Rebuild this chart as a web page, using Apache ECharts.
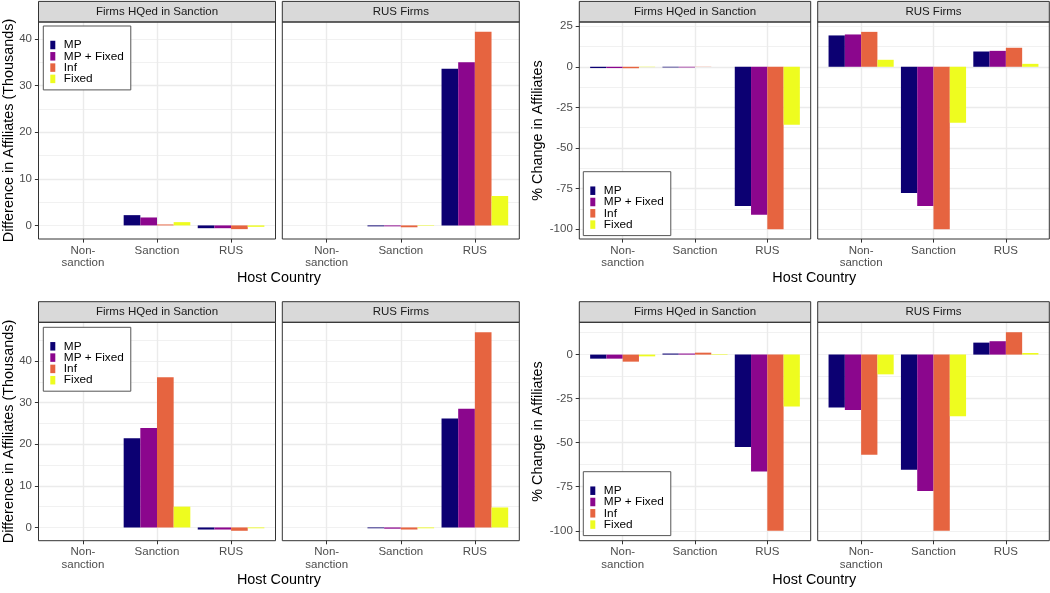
<!DOCTYPE html>
<html><head><meta charset="utf-8">
<script src="https://cdn.jsdelivr.net/npm/echarts@6/dist/echarts.min.js"></script>
<style>html,body{margin:0;padding:0;background:#fff}#c{width:1050px;height:593px}</style>
</head><body><div id="c"></div>
<script>
// ---------- data ----------
const categories = ['Non-\nsanction', 'Sanction', 'RUS'];
const seriesNames = ['MP', 'MP + Fixed', 'Inf', 'Fixed'];
const facetNames = ['Firms HQed in Sanction', 'RUS Firms'];
const xTitle = 'Host Country';
const yTitleDiff = 'Difference in Affiliates (Thousands)';
const yTitlePct = '% Change in Affiliates';
const colors = ['#0C0072', '#8B068D', '#E66440', '#EEFC1F'];

// each facet: rows = MP, MP + Fixed, Inf, Fixed ; columns = Non-sanction, Sanction, RUS
const diffTopHQ  = [[0, 2.2, -0.6], [0, 1.7, -0.6], [0, 0.2, -0.8], [0, 0.7, -0.3]];
const diffTopRUS = [[0, -0.2, 33.6], [0, -0.2, 35.0], [0, -0.4, 41.5], [0, -0.1, 6.3]];
const pctTopHQ   = [[-0.8, -0.4, -85.7], [-0.8, -0.4, -91.1], [-0.9, -0.1, -100], [-0.2, 0, -35.7]];
const pctTopRUS  = [[19.3, -77.7, 9.4], [19.9, -85.7, 9.8], [21.5, -100, 11.7], [4.3, -34.5, 1.8]];
const diffBotHQ  = [[0, 21.4, -0.5], [0, 23.9, -0.5], [0, 36.1, -0.8], [0, 5.0, -0.2]];
const diffBotRUS = [[0, -0.2, 26.2], [0, -0.3, 28.5], [0, -0.5, 46.9], [0, -0.2, 4.8]];
const pctBotHQ   = [[-2.3, 0.6, -52.4], [-2.3, 0.6, -66.3], [-4.0, 1.1, -100], [-1.0, 0.3, -29.5]];
const pctBotRUS  = [[-30.0, -65.4, 6.8], [-31.4, -77.4, 7.6], [-56.8, -100, 12.7], [-11.2, -35.0, 0.9]];

// ---------- layout ----------
const FONT = '"Liberation Sans", Arial, Helvetica, sans-serif';
const colsLeft = [[38.5, 275.5], [282.3, 519.3]];
const colsRight = [[579.3, 810.7], [817.7, 1049.3]];
const rows = [
  { strip: [1.4, 22], plot: [22, 239], xtitleY: 278.5 },
  { strip: [301.7, 322.3], plot: [322.3, 540.7], xtitleY: 580 }
];
const panels = [
  { data: [diffTopHQ, diffTopRUS], cols: colsLeft, row: 0, major: 10, minor: 5, ytitle: yTitleDiff, ytitleX: 9.5, legend: [43.3, 26] },
  { data: [pctTopHQ, pctTopRUS], cols: colsRight, row: 0, major: 25, minor: 12.5, ytitle: yTitlePct, ytitleX: 538.5, legend: [583.3, 171.7] },
  { data: [diffBotHQ, diffBotRUS], cols: colsLeft, row: 1, major: 10, minor: 5, ytitle: yTitleDiff, ytitleX: 9.5, legend: [43.3, 327.3] },
  { data: [pctBotHQ, pctBotRUS], cols: colsRight, row: 1, major: 25, minor: 12.5, ytitle: yTitlePct, ytitleX: 538.5, legend: [583.3, 471.7] }
];

const grid = [], xAxis = [], yAxis = [], series = [], legend = [], graphic = [];

panels.forEach((p, pi) => {
  // ggplot-like continuous range: include 0, expand 5%
  let lo = 0, hi = 0;
  p.data.forEach(fd => fd.forEach(r => r.forEach(v => { lo = Math.min(lo, v); hi = Math.max(hi, v); })));
  const pad = (hi - lo) * 0.05;
  const ymin = lo - pad, ymax = hi + pad;
  const tickVals = [];
  for (let t = Math.ceil(ymin / p.major) * p.major; t <= ymax; t += p.major) tickVals.push(+t.toFixed(6));
  const r = rows[p.row];
  const [y0, y1] = r.plot;

  p.cols.forEach(([x0, x1], k) => {
    const f = pi * 2 + k;
    const u = (x1 - x0) / 3.2;
    grid.push({ left: x0, top: y0, width: x1 - x0, height: y1 - y0, containLabel: false, outerBoundsMode: 'none' });
    grid.push({ left: x0 + 0.1 * u, top: y0, width: 3 * u, height: y1 - y0, containLabel: false, outerBoundsMode: 'none' });
    xAxis.push({ gridIndex: 2 * f, type: 'value', min: 0, max: 1, show: false });
    xAxis.push({
      gridIndex: 2 * f + 1, type: 'category', data: categories,
      axisLine: { show: false, onZero: false },
      axisTick: { show: true, alignWithLabel: true, length: 3.6, lineStyle: { color: '#333333', width: 1 } },
      axisLabel: { interval: 0, color: '#4D4D4D', fontSize: 11.5, fontFamily: FONT, lineHeight: 12.7, margin: 5 },
      splitLine: { show: true, alignWithLabel: true, lineStyle: { color: '#EBEBEB', width: 1.4 } }
    });
    const first = k === 0;
    yAxis.push({
      gridIndex: 2 * f, type: 'value', position: 'left', min: ymin, max: ymax,
      minInterval: p.major, maxInterval: p.major,
      axisLine: { show: false },
      axisTick: { show: first, length: 3.6, customValues: tickVals, lineStyle: { color: '#333333', width: 1 } },
      axisLabel: { show: first, customValues: tickVals, color: '#4D4D4D', fontSize: 11.5, fontFamily: FONT, margin: 6.5 },
      splitLine: { show: true, showMinLine: false, showMaxLine: false, lineStyle: { color: '#EBEBEB', width: 1.4 } }
    });
    yAxis.push({
      gridIndex: 2 * f, type: 'value', position: 'right', min: ymin, max: ymax,
      minInterval: p.minor, maxInterval: p.minor,
      axisLine: { show: false }, axisTick: { show: false }, axisLabel: { show: false },
      splitLine: { show: true, showMinLine: false, showMaxLine: false, lineStyle: { color: '#EBEBEB', width: 0.7 } }
    });
    yAxis.push({ gridIndex: 2 * f + 1, type: 'value', min: ymin, max: ymax, show: false });

    seriesNames.forEach((name, s) => {
      series.push({
        type: 'bar', name, xAxisIndex: 2 * f + 1, yAxisIndex: 3 * f + 2,
        data: p.data[k][s], barWidth: '22.5%', barGap: '0%',
        itemStyle: { color: colors[s] }, silent: true, animation: false
      });
    });

    // strip
    const [s0, s1] = r.strip;
    graphic.push({ type: 'rect', z: 100, shape: { x: x0, y: s0, width: x1 - x0, height: s1 - s0 },
      style: { fill: '#D9D9D9', stroke: '#333333', lineWidth: 1 }, silent: true });
    graphic.push({ type: 'text', z: 101, x: (x0 + x1) / 2, y: (s0 + s1) / 2,
      style: { text: facetNames[k], fill: '#1A1A1A', font: '11.5px ' + FONT, align: 'center', verticalAlign: 'middle' }, silent: true });
    // panel border
    graphic.push({ type: 'rect', z: 100, shape: { x: x0, y: y0, width: x1 - x0, height: y1 - y0 },
      style: { fill: 'none', stroke: '#333333', lineWidth: 1 }, silent: true });
  });

  // axis titles
  const cx = (p.cols[0][0] + p.cols[1][1]) / 2;
  graphic.push({ type: 'text', z: 101, x: cx, y: r.xtitleY,
    style: { text: xTitle, fill: '#000', font: '14.4px ' + FONT, align: 'center', verticalAlign: 'middle' }, silent: true });
  graphic.push({ type: 'text', z: 101, x: p.ytitleX, y: (y0 + y1) / 2, rotation: Math.PI / 2,
    style: { text: p.ytitle, fill: '#000', font: '14.4px ' + FONT, align: 'center', verticalAlign: 'middle' }, silent: true });

  legend.push({
    orient: 'vertical', left: p.legend[0], top: p.legend[1], data: seriesNames, icon: 'rect',
    itemWidth: 5, itemHeight: 8.5, itemGap: -0.7, padding: [13, 7, 5, 7],
    backgroundColor: '#fff', borderColor: '#555555', borderWidth: 1, borderRadius: 0, z: 120,
    textStyle: { fontFamily: FONT, fontSize: 11.8, color: '#000', lineHeight: 10, padding: [0, 0, 0, 3.5] }
  });
});

const chart = echarts.init(document.getElementById('c'), null, { renderer: 'canvas' });
chart.setOption({ animation: false, color: colors, grid, xAxis, yAxis, series, legend, graphic });
</script></body></html>
